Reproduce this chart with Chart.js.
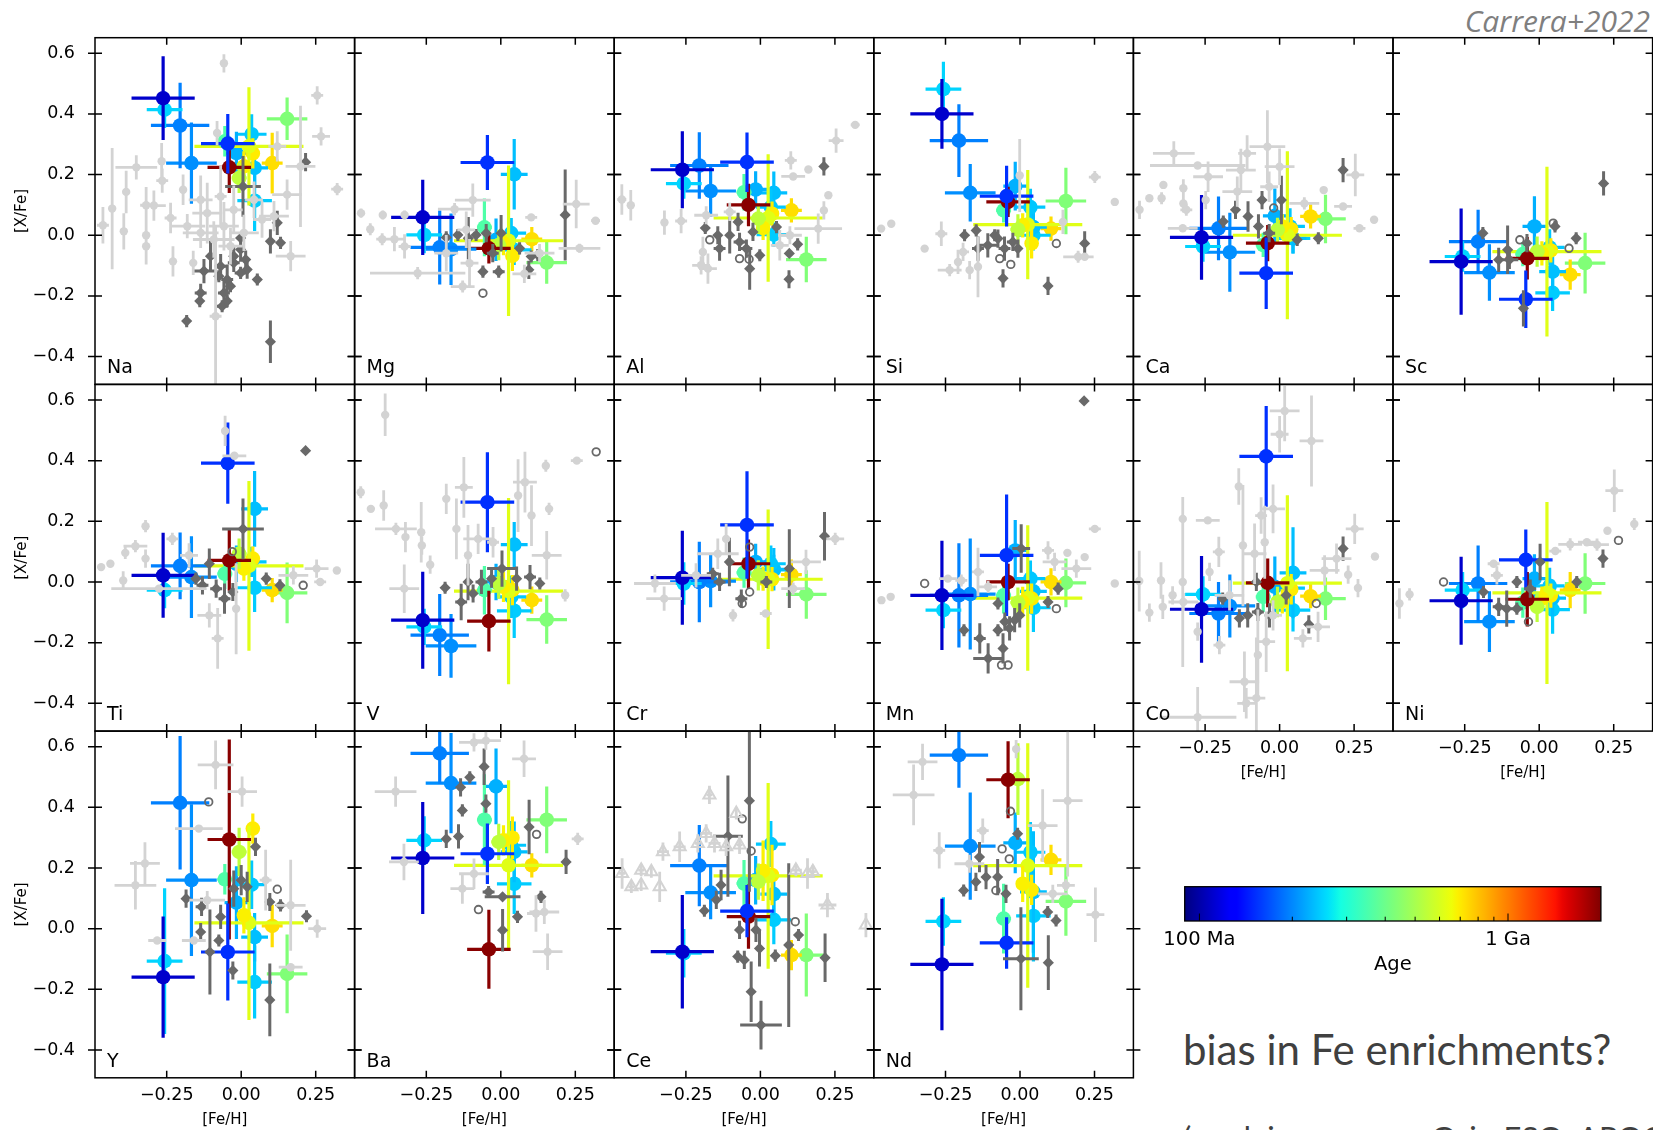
<!DOCTYPE html>
<html>
<head>
<meta charset="utf-8">
<script src="https://cdn.jsdelivr.net/npm/chart.js@4.4.1/dist/chart.umd.min.js"></script>
<style>
  body { margin: 0; background: #fff; }
  #page { position: relative; width: 1653px; height: 1130px; overflow: hidden; background: #fff; }
  #page canvas { position: absolute; }
  .note { position: absolute; white-space: nowrap; line-height: 1; }
  #credit { right: 3px; top: 0px; font: italic 30px "Open Sans", sans-serif; color: #7f7f7f; }
  #question { left: 1183px; top: 1024px; font: 42px Lato, sans-serif; color: #404040; }
  #wip { left: 1183px; top: 1118px; font: 31px Lato, sans-serif; color: #404040; }
</style>
</head>
<body>
<div id="page">
  <div class="note" id="credit">Carrera+2022</div>
  <div class="note" id="question">bias in Fe enrichments?</div>
  <div class="note" id="wip">(work in progress: Gaia-ESO; APOGEE)</div>
</div>
<script>
// ---- axes ----
const X_MIN = -0.4906, X_MAX = 0.3805;
const Y_MIN = -0.4917, Y_MAX = 0.6514;
const xTickValues = [-0.25, 0, 0.25];
const yTickValues = [-0.4, -0.2, 0, 0.2, 0.4, 0.6];

// ---- open clusters: [Fe/H], its error, age (Ma) ----
const clusterFeH    = [-0.262, -0.257, -0.205, -0.167, -0.045, -0.040, -0.055, -0.007, 0.009, 0.026, 0.039, -0.016, 0.035, 0.045, 0.045, 0.104, 0.154];
const clusterFeHErr = [0.106, 0.06, 0.098, 0.085, 0.09, 0.073, 0.025, 0.025, 0.02, 0.183, 0.02, 0.04, 0.05, 0.045, 0.058, 0.035, 0.068];
const clusterAgeMa  = [110, 252, 195, 204, 153, 1950, 358, 542, 685, 620, 696, 226, 242, 236, 246, 730, 430];

// ---- [X/Fe] of the clusters, and errors ----
const naXFe = [0.452, 0.414, 0.362, 0.238, 0.302, 0.224, 0.31, 0.189, 0.227, 0.293, 0.27, 0.271, 0.333, 0.222, 0.114, 0.238, 0.384];
const naErr = [0.138, 0.06, 0.141, 0.134, 0.098, 0.085, 0.05, 0.05, 0.05, 0.195, 0.05, 0.07, 0.066, 0.06, 0.1, 0.1, 0.07];
const mgXFe = [0.059, 0.001, -0.04, -0.046, 0.24, -0.043, 0.026, -0.032, -0.026, -0.018, -0.068, -0.015, 0.007, 0.201, -0.048, -0.013, -0.09];
const mgErr = [0.124, 0.06, 0.122, 0.118, 0.091, 0.05, 0.095, 0.05, 0.04, 0.248, 0.05, 0.07, 0.05, 0.116, 0.05, 0.04, 0.07];
const alXFe = [0.216, 0.17, 0.23, 0.146, 0.241, 0.10, 0.142, 0.055, 0.024, 0.057, 0.071, 0.151, 0.093, 0.14, 0.002, 0.082, -0.08];
const alErr = [0.127, 0.05, 0.11, 0.085, 0.098, 0.07, 0.06, 0.05, 0.04, 0.21, 0.04, 0.06, 0.06, 0.07, 0.04, 0.04, 0.075];
const siXFe = [0.40, 0.482, 0.312, 0.140, 0.129, 0.11, 0.082, 0.019, 0.033, 0.035, -0.027, 0.162, 0.093, 0.027, 0.0, 0.022, 0.113];
const siErr = [0.115, 0.09, 0.12, 0.095, 0.1, 0.05, 0.04, 0.05, 0.04, 0.18, 0.05, 0.08, 0.06, 0.05, 0.05, 0.04, 0.11];
const caXFe = [-0.007, -0.037, 0.023, -0.056, -0.125, -0.026, -0.032, 0.018, 0.029, 0.0, 0.02, 0.064, 0.029, -0.01, -0.01, 0.062, 0.054];
const caErr = [0.14, 0.05, 0.105, 0.13, 0.118, 0.06, 0.04, 0.04, 0.04, 0.277, 0.04, 0.09, 0.06, 0.05, 0.05, 0.04, 0.08];
const scXFe = [-0.087, -0.07, -0.021, -0.123, -0.211, -0.076, -0.062, -0.054, -0.06, -0.054, -0.05, 0.029, -0.04, -0.12, -0.19, -0.13, -0.092];
const scErr = [0.175, 0.05, 0.105, 0.093, 0.095, 0.07, 0.04, 0.05, 0.04, 0.28, 0.04, 0.1, 0.06, 0.06, 0.06, 0.05, 0.1];
const tiXFe = [0.022, -0.027, 0.053, 0.016, 0.392, 0.071, 0.027, 0.093, 0.044, 0.053, 0.077, 0.06, 0.066, 0.241, -0.019, -0.027, -0.036];
const tiErr = [0.14, 0.06, 0.11, 0.135, 0.134, 0.1, 0.05, 0.05, 0.04, 0.28, 0.04, 0.06, 0.05, 0.125, 0.08, 0.04, 0.1];
const vXFe  = [-0.126, -0.148, -0.175, -0.211, 0.263, -0.129, -0.027, -0.005, -0.016, -0.03, -0.027, 0.0, -0.049, 0.123, -0.095, -0.06, -0.124];
const vErr  = [0.16, 0.06, 0.135, 0.105, 0.165, 0.1, 0.08, 0.05, 0.05, 0.307, 0.05, 0.06, 0.07, 0.075, 0.09, 0.045, 0.08];
const crXFe = [0.014, -0.005, 0.0, 0.003, 0.188, 0.06, 0.031, 0.022, 0.011, 0.009, 0.009, 0.066, 0.06, 0.042, 0.04, 0.024, -0.041];
const crErr = [0.155, 0.07, 0.133, 0.086, 0.177, 0.08, 0.05, 0.05, 0.04, 0.23, 0.04, 0.06, 0.06, 0.07, 0.05, 0.05, 0.08];
const mnXFe = [-0.044, -0.093, -0.044, -0.04, 0.088, 0.0, -0.044, -0.068, -0.066, -0.053, -0.055, 0.104, 0.011, -0.031, -0.085, 0.0, -0.003];
const mnErr = [0.18, 0.06, 0.172, 0.183, 0.2, 0.06, 0.06, 0.05, 0.05, 0.24, 0.05, 0.1, 0.06, 0.06, 0.08, 0.045, 0.08];
const coXFe = [-0.09, -0.041, -0.104, -0.079, 0.414, -0.003, -0.049, -0.066, -0.064, -0.004, -0.024, -0.016, -0.02, 0.03, -0.093, -0.047, -0.055];
const coErr = [0.176, 0.06, 0.104, 0.104, 0.166, 0.08, 0.05, 0.05, 0.04, 0.29, 0.05, 0.1, 0.06, 0.15, 0.07, 0.04, 0.07];
const niXFe = [-0.062, -0.027, -0.005, -0.131, 0.073, -0.057, -0.068, -0.082, -0.055, -0.036, -0.045, 0.011, -0.013, -0.053, -0.091, -0.027, -0.005];
const niErr = [0.145, 0.06, 0.125, 0.1, 0.1, 0.09, 0.05, 0.05, 0.04, 0.3, 0.04, 0.08, 0.06, 0.06, 0.08, 0.06, 0.1];
const yXFe  = [-0.16, -0.107, 0.415, 0.16, -0.077, 0.294, 0.163, 0.253, 0.044, 0.019, 0.33, 0.086, 0.145, -0.028, -0.176, 0.009, -0.149];
const yErr  = [0.2, 0.24, 0.22, 0.25, 0.16, 0.33, 0.05, 0.08, 0.06, 0.32, 0.05, 0.12, 0.08, 0.08, 0.12, 0.07, 0.13];
const baXFe = [0.233, 0.291, 0.578, 0.48, 0.247, -0.068, 0.359, 0.286, 0.291, 0.209, 0.30, 0.469, 0.275, 0.253, 0.148, 0.209, 0.359];
const baErr = [0.185, 0.08, 0.1, 0.165, 0.1, 0.13, 0.15, 0.06, 0.05, 0.28, 0.07, 0.125, 0.08, 0.1, 0.1, 0.04, 0.11];
const ceXFe = [-0.076, -0.081, 0.208, 0.119, 0.058, 0.04, 0.149, 0.155, 0.191, 0.174, 0.177, 0.16, 0.279, 0.114, 0.029, -0.087, -0.087];
const ceErr = [0.187, 0.08, 0.134, 0.088, 0.086, 0.106, 0.077, 0.06, 0.1, 0.306, 0.1, 0.08, 0.076, 0.07, 0.08, 0.05, 0.137];
const ndXFe = [-0.118, 0.024, 0.572, 0.272, -0.047, 0.491, 0.033, 0.493, 0.148, 0.208, 0.128, 0.283, 0.252, 0.121, 0.042, 0.227, 0.09];
const ndErr = [0.217, 0.08, 0.107, 0.177, 0.085, 0.127, 0.115, 0.118, 0.06, 0.403, 0.05, 0.1, 0.1, 0.2, 0.15, 0.05, 0.113];

// ---- comparison samples: [FeH, XFe, errFeH, errXFe] ----
const naLight = [[-0.058,0.567,0,0.03],[0.255,0.461,0.02,0.03],[0.268,0.326,0.03,0.03],[0.322,0.152,0.02,0.02],[-0.352,0.224,0.07,0.04],[-0.433,0.088,0,0.2],[-0.464,0.033,0.02,0.06],[-0.386,0.143,0,0.07],[-0.394,0.013,0,0.06],[-0.319,0.099,0.02,0.06],[-0.319,0,0,0.04],[-0.319,-0.036,0,0.06],[-0.293,0.098,0.04,0.05],[-0.267,0.244,0,0.06],[-0.265,0.18,0.02,0.04],[-0.229,-0.086,0,0.05],[-0.195,0.15,0,0.05],[-0.237,0.057,0.02,0.05],[-0.161,-0.091,0.01,0.04],[-0.181,0.03,0.06,0.04],[-0.136,0.008,0.06,0.05],[-0.114,0.073,0.05,0.1],[-0.086,-0.267,0.02,0.3],[-0.092,-0.014,0.07,0.06],[-0.069,0.128,0.02,0.1],[-0.058,0.03,0.05,0.08],[-0.025,0.084,0.03,0.08],[-0.036,-0.036,0.04,0.06],[0.009,0.008,0.05,0.06],[0.043,0.117,0.03,0.06],[0.07,0.052,0.03,0.06],[0.11,0.063,0.05,0.05],[0.154,0.134,0.05,0.05],[0.166,-0.069,0.05,0.05],[0.199,0.227,0.05,0.2],[0.121,0.293,0.03,0.05],[-0.136,0.117,0.04,0.08],[-0.081,0.337,0,0.04]];
const naDark = [[0.216,0.241,0.01,0.03],[-0.183,-0.283,0.01,0.02],[0.098,-0.351,0.01,0.07],[0.054,-0.146,0.01,0.02],[0.121,0.041,0.01,0.04],[0.098,-0.02,0.01,0.04],[0.132,-0.025,0.01,0.02],[0.006,0.161,0.06,0.1],[-0.002,-0.009,0.01,0.02],[-0.002,-0.047,0.01,0.04],[0.015,-0.08,0.01,0.03],[0.02,-0.113,0.01,0.03],[-0.025,-0.091,0.02,0.03],[-0.069,-0.102,0.02,0.04],[-0.125,-0.118,0.04,0.04],[-0.103,-0.069,0.01,0.05],[-0.047,-0.146,0.02,0.05],[-0.058,-0.19,0.02,0.04],[-0.136,-0.19,0.02,0.03],[-0.139,-0.217,0.01,0.02],[-0.064,-0.234,0.02,0.02],[-0.047,-0.217,0.01,0.02],[-0.025,-0.069,0.01,0.03],[-0.036,-0.168,0.01,0.02],[-0.075,-0.135,0.01,0.02],[-0.002,-0.124,0.02,0.02]];
const naOpen = [];
const mgLight = [[-0.469,0.073,0.01,0.015],[-0.438,0.02,0.01,0.02],[-0.396,0.067,0.01,0.015],[-0.323,0.067,0.01,0.015],[-0.398,-0.013,0.02,0.02],[-0.357,-0.013,0.03,0.04],[-0.323,-0.037,0.02,0.04],[-0.279,-0.125,0.16,0.02],[-0.155,0.086,0.056,0.02],[-0.094,0.116,0.06,0.055],[-0.128,-0.169,0.04,0.02],[0.102,0.059,0.02,0.01],[0.253,0.103,0.045,0.08],[0.264,-0.043,0.07,0.015],[0.318,0.048,0.015,0.01],[0.079,-0.127,0.04,0.03],[-0.116,0.018,0.03,0.06],[-0.105,-0.092,0.03,0.08],[-0.183,-0.059,0.04,0.06],[0.13,-0.059,0.05,0.03]];
const mgDark = [[0.216,0.067,0.005,0.15],[-0.06,-0.12,0.01,0.02],[-0.007,-0.12,0.02,0.02],[0.094,-0.114,0.01,0.03],[0.102,-0.07,0.01,0.02],[0.124,-0.065,0.01,0.02],[-0.109,-0.01,0.005,0.07],[-0.183,-0.007,0.01,0.02],[-0.144,0.001,0.01,0.02],[-0.083,0.001,0.01,0.02],[-0.049,0.007,0.01,0.03],[0.001,0.007,0.005,0.06],[-0.027,-0.059,0.02,0.03],[0.063,-0.043,0.01,0.02]];
const mgOpen = [[-0.06,-0.191]];
const alLight = [[0.318,0.364,0.015,0.01],[0.254,0.312,0.025,0.04],[0.161,0.217,0.01,0.01],[0.11,0.194,0.04,0.01],[0.102,0.247,0.02,0.03],[0.228,0.132,0.01,0.01],[0.213,0.082,0.01,0.03],[0.194,0.022,0.08,0.05],[-0.465,0.118,0.015,0.05],[-0.435,0.099,0,0.05],[-0.322,0.042,0,0.04],[-0.266,0.047,0.02,0.04],[-0.193,-0.055,0,0.05],[-0.199,-0.099,0.03,0.03],[-0.176,-0.11,0.03,0.05],[-0.182,0.066,0.04,0.03],[-0.103,0.077,0.02,0.03],[0.099,0,0.04,0.03],[0.065,-0.033,0.03,0.05]];
const alDark = [[0.213,0.227,0.01,0.03],[0.096,-0.145,0.01,0.03],[0.125,-0.03,0.01,0.02],[0.097,-0.06,0.01,0.01],[-0.185,0.024,0.01,0.02],[-0.143,0,0.01,0.03],[-0.137,-0.044,0.02,0.04],[-0.103,0,0.01,0.06],[-0.07,-0.022,0.02,0.03],[-0.047,-0.044,0.02,0.03],[-0.036,-0.11,0,0.07],[-0.002,-0.066,0.01,0.02],[-0.075,0.044,0.01,0.03],[-0.025,0.011,0.01,0.03],[0.054,0.027,0.01,0.02]];
const alOpen = [[-0.07,-0.077],[-0.038,-0.079],[-0.17,-0.015]];
const siLight = [[0.251,0.192,0.02,0.02],[0.318,0.11,0.01,0.01],[-0.466,0.022,0.005,0.01],[-0.432,0.038,0.005,0.01],[-0.32,-0.044,0.005,0.01],[-0.264,0.005,0.02,0.04],[-0.236,-0.115,0.04,0.02],[-0.208,-0.088,0.01,0.04],[-0.169,-0.115,0.01,0.03],[-0.141,-0.104,0,0.1],[-0.191,-0.055,0.02,0.03],[-0.001,0.197,0,0.12],[0.195,-0.071,0.05,0.02],[0.217,-0.071,0.03,0.01],[0.144,0.044,0.01,0.04]];
const siDark = [[0.217,-0.027,0.01,0.04],[0.094,-0.167,0.01,0.03],[-0.186,0,0.01,0.02],[-0.147,0.016,0.01,0.02],[-0.141,-0.044,0.02,0.04],[-0.108,-0.033,0.03,0.04],[-0.074,-0.011,0.01,0.03],[-0.052,-0.044,0.02,0.04],[-0.024,-0.022,0.02,0.03],[-0.057,-0.142,0.01,0.03],[-0.007,-0.044,0.01,0.03],[-0.085,0,0.01,0.02]];
const siOpen = [[-0.068,-0.077],[-0.031,-0.096],[0.122,-0.027]];
const caLight = [[-0.355,0.27,0.07,0.04],[-0.275,0.23,0.16,0.01],[-0.24,0.193,0.05,0.05],[-0.109,0.27,0.03,0.06],[-0.041,0.292,0.06,0.12],[-0.13,0.215,0.05,0.07],[0,0.226,0.05,0.06],[-0.035,0.16,0.03,0.05],[-0.142,0.144,0.05,0.05],[0.254,0.199,0.03,0.07],[0.148,0.149,0.01,0.01],[0.268,0.023,0.02,0.01],[0.317,0.051,0.01,0.01],[-0.47,0.084,0.01,0.03],[-0.437,0.122,0.01,0.01],[-0.396,0.122,0,0.02],[-0.39,0.166,0,0.01],[-0.323,0.155,0,0.03],[-0.323,0.105,0,0.03],[-0.313,0.084,0.02,0.02],[-0.325,0.023,0.05,0.01],[-0.248,0.116,0,0.03],[0.083,0.105,0.05,0.02],[0.213,0.095,0.03,0.01]];
const caDark = [[0.213,0.215,0.005,0.04],[-0.059,0.116,0.01,0.03],[-0.148,0.084,0.01,0.03],[-0.189,0.045,0.01,0.02],[-0.106,0.062,0.01,0.05],[-0.071,0.029,0.01,0.04],[0.006,0.116,0.005,0.08],[0.13,-0.01,0.01,0.02],[0.059,-0.015,0.01,0.02],[-0.035,0.007,0.02,0.03]];
const caOpen = [[-0.02,0.09]];
const scLight = [];
const scDark = [[0.216,0.171,0.005,0.04],[-0.189,0.007,0.01,0.02],[-0.053,-0.241,0.01,0.06],[-0.136,-0.081,0.01,0.04],[-0.1,-0.081,0.03,0.03],[0.053,0.029,0.01,0.02],[0.124,-0.01,0.01,0.02],[-0.106,-0.048,0.01,0.08],[-0.041,-0.026,0.01,0.03]];
const scOpen = [[0.1,-0.043],[-0.065,-0.015],[0.047,0.04]];
const tiLight = [[-0.054,0.498,0,0.05],[-0.023,0.416,0.04,0],[-0.47,0.049,0.01,0.01],[-0.439,0.06,0.01,0.01],[-0.389,0.096,0,0.02],[-0.355,0.118,0.04,0.02],[-0.321,0.184,0,0.02],[-0.321,0.077,0,0.03],[-0.231,0.142,0.02,0.02],[-0.396,0.005,0,0.03],[-0.276,-0.022,0.16,0],[-0.079,-0.186,0.02,0.1],[-0.017,-0.088,0,0.15],[-0.107,-0.11,0.04,0.04],[0.253,0.044,0.04,0.03],[0.265,0,0.02,0.01],[0.321,0.038,0.01,0.01],[-0.175,0.088,0.03,0.04],[0.175,0.022,0.05,0.03]];
const tiDark = [[0.216,0.433,0.01,0.01],[0.006,0.175,0.07,0.1],[-0.107,0.06,0.005,0.05],[-0.13,-0.011,0.02,0.03],[-0.084,-0.022,0.02,0.03],[-0.056,-0.055,0.02,0.05],[-0.028,-0.033,0.01,0.03],[0.084,0.011,0.01,0.02],[0.13,-0.011,0.01,0.02],[-0.152,0.011,0.01,0.02]];
const tiOpen = [[0.208,-0.011],[-0.03,0.1]];
const vLight = [[-0.388,0.551,0,0.07],[-0.47,0.296,0.01,0.02],[-0.436,0.241,0.01,0.01],[-0.393,0.252,0,0.05],[-0.352,0.175,0.07,0.02],[-0.32,0.148,0,0.05],[-0.267,0.164,0,0.1],[-0.265,0.12,0,0.03],[-0.237,0.057,0,0.03],[-0.324,-0.022,0.05,0.08],[-0.183,0.274,0,0.05],[-0.124,0.312,0.03,0.1],[-0.149,0.175,0,0.1],[-0.11,0.088,0.01,0.1],[-0.076,0.142,0.05,0.05],[0.081,0.329,0.04,0.1],[0.151,0.383,0,0.02],[0.162,0.241,0,0.02],[0.255,0.4,0.02,0.01],[0.216,-0.044,0,0.02],[0.103,0.219,0,0.1],[0.154,0.088,0.05,0.08],[0.058,0.285,0,0.12],[-0.026,0.131,0.02,0.05]];
const vDark = [[-0.187,-0.019,0.01,0.02],[-0.133,-0.066,0.02,0.06],[-0.093,-0.038,0.01,0.03],[-0.065,0,0.02,0.04],[0.004,0.044,0.05,0.06],[0.053,0.011,0.01,0.04],[0.098,0.016,0.02,0.04],[0.131,-0.005,0.01,0.02],[-0.031,0.011,0.01,0.03],[-0.11,0,0.01,0.06]];
const vOpen = [[0.32,0.429]];
const crLight = [[-0.354,-0.005,0.07,0.03],[-0.323,-0.055,0.06,0.04],[-0.143,0.093,0.07,0.05],[-0.115,0.142,0,0.05],[-0.092,-0.11,0,0.02],[0.018,-0.104,0.02,0],[0.153,0.066,0.05,0.04],[0.251,0.142,0.03,0.02],[0.11,-0.022,0.04,0.02],[-0.216,0.022,0.05,0.04]];
const crDark = [[0.215,0.151,0.005,0.08],[0.097,0.044,0.005,0.13],[-0.104,0.066,0.005,0.08],[-0.137,0,0.02,0.03],[-0.064,-0.055,0.02,0.03],[-0.16,0.027,0.02,0.02],[0.02,0,0.02,0.02]];
const crOpen = [[-0.036,-0.033],[-0.061,-0.071],[-0.036,0.115]];
const mnLight = [[0.251,0.175,0.02,0.01],[0.318,-0.005,0.01,0.01],[-0.465,-0.06,0.005,0.01],[-0.434,-0.049,0.005,0.01],[-0.242,0.011,0.03,0.01],[-0.197,0.005,0.02,0.02],[-0.141,0.033,0.02,0.08],[-0.107,-0.016,0.03,0.02],[0.094,0.104,0.02,0.03],[0.159,0.096,0.01,0.01],[0.189,0.044,0.05,0.03],[0.217,0.082,0.01,0.01],[0.116,0.066,0.04,0.03]];
const mnDark = [[0.215,0.597,0.01,0.01],[-0.188,-0.159,0.01,0.02],[-0.135,-0.186,0.02,0.05],[-0.107,-0.252,0.05,0.05],[-0.057,-0.219,0.01,0.05],[-0.074,-0.159,0.01,0.02],[-0.035,-0.153,0.02,0.04],[-0.018,-0.126,0.02,0.04],[-0.001,-0.11,0.01,0.04],[-0.074,-0.071,0.01,0.02],[0.094,-0.066,0.01,0.02],[0.004,0.11,0.03,0.08],[-0.051,-0.131,0.01,0.03],[0.128,-0.022,0.01,0.02]];
const mnOpen = [[-0.04,-0.274],[-0.062,-0.274],[0.122,-0.088],[-0.32,-0.005]];
const coLight = [[-0.471,0.003,0,0.1],[-0.437,-0.101,0,0.03],[-0.398,0.005,0,0.06],[-0.392,-0.082,0,0.04],[-0.359,-0.044,0,0.03],[-0.325,0.208,0,0.07],[-0.325,0,0,0.28],[-0.323,-0.066,0.05,0.03],[-0.275,-0.446,0.13,0.1],[-0.241,0.203,0.04,0],[-0.235,0.033,0,0.03],[-0.275,-0.164,0,0.03],[-0.204,0.099,0.02,0.05],[-0.202,-0.208,0.02,0.03],[-0.137,0.315,0,0.06],[-0.123,0.12,0,0.2],[-0.118,-0.329,0.05,0.1],[-0.112,-0.4,0.03,0.05],[-0.078,-0.383,0.03,0.2],[-0.073,-0.241,0,0.15],[-0.084,0.093,0.04,0.1],[-0.062,0.219,0.02,0.06],[-0.05,0.131,0,0.12],[-0.022,0.241,0.04,0.08],[0,0.487,0.03,0.06],[0.017,0.564,0.05,0.1],[0.107,0.465,0.04,0.15],[-0.045,-0.197,0.03,0.1],[-0.022,-0.11,0.03,0.05],[0.078,-0.186,0.03,0.03],[0.129,-0.148,0.04,0.05],[0.151,0.038,0.05,0.05],[0.191,0.077,0.05,0.05],[0.23,0.024,0,0.03],[0.252,0.175,0.03,0.05],[0.263,-0.02,0,0.03],[0.32,0.084,0.01,0.01],[-0.168,-0.044,0.05,0.05]];
const coDark = [[0.213,0.11,0.01,0.04],[0.098,-0.14,0.01,0.03],[-0.135,-0.12,0.01,0.03],[-0.107,-0.11,0.01,0.04],[-0.073,-0.099,0.02,0.03],[-0.191,-0.055,0.01,0.02],[-0.034,-0.11,0.01,0.04],[0.022,-0.044,0.01,0.03],[-0.078,0,0.01,0.03]];
const coOpen = [[0.123,-0.071]];
const niLight = [[0.252,0.301,0.03,0.07],[0.319,0.191,0.01,0.02],[0.229,0.169,0.01,0.01],[0.194,0.123,0.04,0.02],[0.16,0.131,0.03,0.01],[0.104,0.124,0.04,0.02],[0.054,0.102,0.02,0.01],[-0.153,0.06,0.02,0.01],[-0.142,0.022,0.02,0.03],[-0.469,-0.071,0,0.05],[-0.435,-0.041,0,0.02]];
const niDark = [[0.214,0.077,0.01,0.03],[-0.187,-0.033,0.01,0.02],[-0.136,-0.082,0.02,0.03],[-0.109,-0.088,0.01,0.06],[-0.075,0,0.01,0.02],[-0.075,-0.088,0.02,0.02],[0.003,0.066,0.005,0.06],[-0.03,-0.022,0.02,0.03],[0.126,0,0.01,0.02]];
const niOpen = [[-0.036,-0.131],[-0.321,0],[0.266,0.137]];
const yLight = [[-0.086,0.54,0.06,0.08],[0.003,0.452,0.05,0.05],[-0.323,0.215,0.05,0.07],[-0.355,0.143,0.07,0.08],[-0.142,0.33,0.08,0],[0.082,0.16,0.02,0.1],[0.166,0.077,0.05,0.15],[0.255,0,0.03,0.03],[-0.282,-0.039,0.03,0],[-0.159,-0.039,0.04,0],[0.166,-0.127,0.04,0],[-0.114,0.094,0.06,0.03]];
const yDark = [[-0.185,0.099,0.01,0.03],[-0.133,0.072,0.02,0.03],[-0.136,-0.011,0.01,0.03],[-0.105,-0.077,0,0.14],[-0.075,-0.039,0.01,0.02],[-0.028,-0.138,0.01,0.03],[-0.025,0.132,0.01,0.06],[0,0.16,0.01,0.05],[0.048,0.27,0.01,0.03],[0.096,0.088,0.01,0.03],[0.132,0.077,0.01,0.02],[0.219,0.041,0.01,0.02],[0.096,-0.235,0.01,0.12],[-0.069,0.039,0.01,0.04],[0.02,0.138,0.01,0.05]];
const yOpen = [[0.121,0.13],[-0.109,0.418]];
const baLight = [[-0.353,0.452,0.07,0.05],[-0.325,0.22,0.05,0.06],[-0.09,0.614,0.05,0.03],[-0.05,0.62,0.05,0.03],[0.078,0.56,0.04,0.06],[0.258,0.296,0.02,0.02],[0.146,0.055,0.05,0.04],[0.157,-0.076,0.05,0.06],[-0.129,0.132,0.04,0.05],[-0.09,0.181,0.05,0.05],[0.118,0.05,0.03,0.06]];
const baDark = [[-0.056,0.534,0.01,0.06],[-0.104,0.499,0.01,0.02],[-0.135,0.466,0.01,0.03],[-0.129,0.39,0.01,0.02],[-0.183,0.296,0.01,0.03],[-0.142,0.304,0.01,0.04],[-0.041,0.121,0.02,0.02],[0.006,0.105,0.06,0.01],[0.135,0.105,0.01,0.02],[0.219,0.22,0.01,0.04],[0.095,0.335,0.01,0.09],[0.056,0.039,0.01,0.02],[0.006,-0.005,0.01,0.07],[-0.05,0.412,0.01,0.03]];
const baOpen = [[-0.075,0.063],[0.12,0.311]];
const ceLight = [[-0.171,0.441,0.01,0.03],[-0.081,0.38,0,0.02],[-0.182,0.314,0.02,0.03],[-0.271,0.27,0.02,0.05],[-0.327,0.254,0.02,0.03],[-0.21,0.281,0.01,0.03],[-0.154,0.281,0.02,0.03],[-0.115,0.27,0.01,0.03],[-0.07,0.276,0.01,0.03],[-0.464,0.182,0.01,0.05],[-0.4,0.193,0.01,0.02],[-0.366,0.188,0,0.02],[-0.433,0.138,0.01,0.02],[-0.4,0.144,0,0.02],[-0.338,0.138,0,0.05],[0.119,0.193,0.02,0.02],[0.158,0.182,0,0.05],[0.176,0.188,0.01,0.02],[0.225,0.078,0.03,0.04],[0.354,0.012,0,0.04]];
const ceDark = [[-0.037,0.422,0.005,0.3],[-0.109,0.305,0.05,0.2],[-0.132,0.144,0.01,0.05],[-0.188,0.059,0.01,0.02],[-0.076,-0.092,0.01,0.02],[-0.054,-0.103,0.01,0.03],[-0.031,-0.208,0.01,0.1],[0.002,-0.318,0.07,0.08],[-0.003,-0.065,0.01,0.06],[0.05,-0.089,0.01,0.02],[0.095,-0.054,0.01,0.27],[0.128,-0.021,0.01,0.02],[0.217,-0.096,0.01,0.08],[-0.07,-0.004,0.01,0.03],[-0.015,-0.004,0.01,0.04],[-0.148,0.095,0.01,0.03]];
const ceOpen = [[-0.061,0.362],[-0.031,0.256],[0.117,0.023]];
const ndLight = [[-0.357,0.441,0.07,0.1],[-0.327,0.55,0.05,0.06],[-0.271,0.258,0.02,0.06],[-0.125,0.323,0.02,0.04],[0.076,0.34,0.05,0.12],[0.16,0.422,0.05,0.25],[0.253,0.046,0.03,0.09],[0.11,0.115,0.05,0.03],[0.154,0.143,0.03,0.02],[-0.013,0.592,0,0.03],[-0.17,0.214,0.05,0.03]];
const ndDark = [[-0.189,0.126,0.01,0.02],[-0.148,0.154,0.01,0.03],[-0.114,0.17,0.01,0.04],[-0.136,0.236,0.005,0.05],[-0.075,0.17,0.01,0.06],[-0.047,0.115,0.01,0.03],[-0.008,0.313,0.01,0.02],[0.003,-0.099,0.06,0.17],[0.095,-0.112,0.01,0.09],[0.093,0.055,0.01,0.02],[0.121,0.027,0.01,0.02]];
const ndOpen = [[-0.032,0.387],[-0.06,0.263],[-0.036,0.23],[-0.081,0.126]];

const panels = [
  { name: 'Na', xfe: naXFe, err: naErr, light: naLight, dark: naDark, open: naOpen },
  { name: 'Mg', xfe: mgXFe, err: mgErr, light: mgLight, dark: mgDark, open: mgOpen },
  { name: 'Al', xfe: alXFe, err: alErr, light: alLight, dark: alDark, open: alOpen },
  { name: 'Si', xfe: siXFe, err: siErr, light: siLight, dark: siDark, open: siOpen },
  { name: 'Ca', xfe: caXFe, err: caErr, light: caLight, dark: caDark, open: caOpen },
  { name: 'Sc', xfe: scXFe, err: scErr, light: scLight, dark: scDark, open: scOpen },
  { name: 'Ti', xfe: tiXFe, err: tiErr, light: tiLight, dark: tiDark, open: tiOpen },
  { name: 'V',  xfe: vXFe,  err: vErr,  light: vLight,  dark: vDark,  open: vOpen },
  { name: 'Cr', xfe: crXFe, err: crErr, light: crLight, dark: crDark, open: crOpen },
  { name: 'Mn', xfe: mnXFe, err: mnErr, light: mnLight, dark: mnDark, open: mnOpen },
  { name: 'Co', xfe: coXFe, err: coErr, light: coLight, dark: coDark, open: coOpen },
  { name: 'Ni', xfe: niXFe, err: niErr, light: niLight, dark: niDark, open: niOpen },
  { name: 'Y',  xfe: yXFe,  err: yErr,  light: yLight,  dark: yDark,  open: yOpen },
  { name: 'Ba', xfe: baXFe, err: baErr, light: baLight, dark: baDark, open: baOpen },
  { name: 'Ce', xfe: ceXFe, err: ceErr, light: ceLight, dark: ceDark, open: ceOpen, lightStyle: 'triangle' },
  { name: 'Nd', xfe: ndXFe, err: ndErr, light: ndLight, dark: ndDark, open: ndOpen }
];

// ---- colour bar ----
const AGE_MIN = 89.6, AGE_MAX = 2000;
const ageTicks = [100, 200, 300, 400, 500, 600, 700, 800, 900, 1000];
const ageLabels = { 100: '100 Ma', 1000: '1 Ga' };

// matplotlib "jet"
const JET = {
  r: [[0, 0], [0.35, 0], [0.66, 1], [0.89, 1], [1, 0.5]],
  g: [[0, 0], [0.125, 0], [0.375, 1], [0.64, 1], [0.91, 0], [1, 0]],
  b: [[0, 0.5], [0.11, 1], [0.34, 1], [0.65, 0], [1, 0]]
};
function seg(s, t) {
  for (let i = 1; i < s.length; i++) {
    if (t <= s[i][0]) {
      const [t0, v0] = s[i - 1], [t1, v1] = s[i];
      return v0 + (v1 - v0) * (t - t0) / (t1 - t0);
    }
  }
  return s[s.length - 1][1];
}
function jet(t) {
  t = Math.min(1, Math.max(0, t));
  const c = k => Math.round(255 * seg(JET[k], t));
  return `rgb(${c('r')},${c('g')},${c('b')})`;
}
const ageToT = a => Math.log(a / AGE_MIN) / Math.log(AGE_MAX / AGE_MIN);

const LIGHT = '#d3d3d3', DARK = '#696969';
const FONT = "'DejaVu Sans', sans-serif";
const minus = s => s.replace('-', '\u2212');

// geometry of the 6x3 grid
const GRID_X0 = 95, GRID_Y0 = 37.7, CELL_W = 259.6, CELL_H = 346.7;
const page = document.getElementById('page');

// error bars are drawn under the markers of their own dataset
const errorBars = {
  id: 'errorBars',
  beforeDatasetDraw(chart, args) {
    const ds = chart.data.datasets[args.index];
    if (!ds.barWidth) return;
    const { ctx, chartArea: a, scales: { x, y } } = chart;
    ctx.save();
    ctx.beginPath();
    ctx.rect(a.left, a.top, a.right - a.left, a.bottom - a.top);
    ctx.clip();
    ctx.lineWidth = ds.barWidth;
    ctx.strokeStyle = ds.barColor;
    ctx.lineCap = 'butt';
    ctx.beginPath();
    ds.data.forEach(p => {
      const px = x.getPixelForValue(p.x), py = y.getPixelForValue(p.y);
      if (p.xe) {
        ctx.moveTo(x.getPixelForValue(p.x - p.xe), py);
        ctx.lineTo(x.getPixelForValue(p.x + p.xe), py);
      }
      if (p.ye) {
        ctx.moveTo(px, y.getPixelForValue(p.y - p.ye));
        ctx.lineTo(px, y.getPixelForValue(p.y + p.ye));
      }
    });
    ctx.stroke();
    ctx.restore();
  }
};

// box, inward ticks and panel texts
const frame = {
  id: 'frame',
  afterDatasetsDraw(chart, args, opts) {
    const { ctx, chartArea: a, scales: { x, y } } = chart;
    ctx.save();
    ctx.strokeStyle = '#000';
    ctx.lineWidth = 1.5;
    ctx.strokeRect(a.left, a.top, a.right - a.left, a.bottom - a.top);
    ctx.beginPath();
    xTickValues.forEach(v => {
      const px = x.getPixelForValue(v);
      ctx.moveTo(px, a.top); ctx.lineTo(px, a.top + 7);
      ctx.moveTo(px, a.bottom); ctx.lineTo(px, a.bottom - 7);
    });
    yTickValues.forEach(v => {
      const py = y.getPixelForValue(v);
      ctx.moveTo(a.left - 7, py); ctx.lineTo(a.left + 7, py);
      ctx.moveTo(a.right - 7, py); ctx.lineTo(a.right + 7, py);
    });
    ctx.stroke();

    ctx.fillStyle = '#000';
    ctx.font = `19px ${FONT}`;
    ctx.textAlign = 'left';
    ctx.textBaseline = 'alphabetic';
    ctx.fillText(opts.label, a.left + 12, a.bottom - 11);

    ctx.font = `15px ${FONT}`;
    ctx.textAlign = 'center';
    ctx.textBaseline = 'middle';
    if (opts.xTitle) ctx.fillText('[Fe/H]', (a.left + a.right) / 2, a.bottom + 42);
    if (opts.yTitle) {
      ctx.translate(a.left - 72.5, (a.top + a.bottom) / 2);
      ctx.rotate(-Math.PI / 2);
      ctx.fillText('[X/Fe]', 0, 0);
    }
    ctx.restore();
  }
};

function toPts(rows) {
  return rows.map(([x, y, xe, ye]) => ({ x, y, xe: xe || 0, ye: ye || 0 }));
}

// keep the plot area exactly where the layout puts it
function noScalePadding(s) {
  s.paddingTop = 0; s.paddingBottom = 0; s.paddingLeft = 0; s.paddingRight = 0;
}

function buildPanel(p, i) {
  const col = i % 6, row = Math.floor(i / 6);
  const L = GRID_X0 + col * CELL_W, R = L + CELL_W;
  const T = GRID_Y0 + row * CELL_H, B = T + CELL_H;
  const cx = Math.floor(L - 95), cy = Math.floor(T - 10);
  const W = Math.ceil(R + 10) - cx, H = Math.ceil(B + 62) - cy;
  const showX = row === 2 || (row === 1 && col >= 4);
  const showY = col === 0;

  const canvas = document.createElement('canvas');
  canvas.width = W; canvas.height = H;
  canvas.style.left = cx + 'px'; canvas.style.top = cy + 'px';
  canvas.style.width = W + 'px'; canvas.style.height = H + 'px';
  page.appendChild(canvas);

  const datasets = [];
  if (p.light.length) {
    const tri = p.lightStyle === 'triangle';
    datasets.push({
      data: toPts(p.light), barWidth: 2.8, barColor: LIGHT,
      pointStyle: tri ? 'triangle' : 'circle', pointRadius: tri ? 7 : 4.2,
      backgroundColor: tri ? 'rgba(0,0,0,0)' : LIGHT, borderColor: LIGHT, borderWidth: tri ? 2 : 0
    });
  }
  datasets.push({
    data: toPts(p.dark), barWidth: 3, barColor: DARK,
    pointStyle: 'rectRot', pointRadius: 5.6, backgroundColor: DARK, borderWidth: 0
  });
  if (p.open.length) {
    datasets.push({
      data: toPts(p.open), pointStyle: 'circle', pointRadius: 3.8,
      backgroundColor: 'rgba(0,0,0,0)', borderColor: DARK, borderWidth: 1.8
    });
  }
  clusterFeH.forEach((feh, k) => {
    const c = jet(ageToT(clusterAgeMa[k]));
    datasets.push({
      data: [{ x: feh, y: p.xfe[k], xe: clusterFeHErr[k], ye: p.err[k] }],
      barWidth: 3.2, barColor: c,
      pointStyle: 'circle', pointRadius: 7.3, backgroundColor: c, borderWidth: 0
    });
  });
  datasets.forEach(d => { d.clip = 0; });

  new Chart(canvas, {
    type: 'scatter',
    data: { datasets },
    plugins: [errorBars, frame],
    options: {
      responsive: false, animation: false, events: [],
      layout: { padding: { left: L - 95 - cx, top: T - cy, right: W - (R - cx), bottom: 0 } },
      plugins: {
        legend: { display: false }, tooltip: { enabled: false },
        frame: { label: p.name, xTitle: showX, yTitle: showY }
      },
      scales: {
        x: {
          type: 'linear', min: X_MIN, max: X_MAX,
          grid: { display: false }, border: { display: false },
          afterBuildTicks: s => { s.ticks = xTickValues.map(v => ({ value: v })); },
          afterFit: s => { s.height = H - (B - cy); noScalePadding(s); },
          ticks: {
            display: showX, autoSkip: false, maxRotation: 0, padding: -1,
            color: '#000', font: { family: FONT, size: 17.5 },
            callback: v => minus(v.toFixed(2))
          }
        },
        y: {
          type: 'linear', min: Y_MIN, max: Y_MAX,
          grid: { display: false }, border: { display: false },
          afterBuildTicks: s => { s.ticks = yTickValues.map(v => ({ value: v })); },
          afterFit: s => { s.width = 95; noScalePadding(s); },
          ticks: {
            display: showY, autoSkip: false, padding: 12,
            color: '#000', font: { family: FONT, size: 17.5 },
            callback: v => minus(v.toFixed(1))
          }
        }
      }
    }
  });
}

panels.forEach(buildPanel);

// ---- age colour bar (log scale) ----
const colorBar = {
  id: 'colorBar',
  beforeDatasetsDraw(chart) {
    const { ctx, chartArea: a, scales: { x } } = chart;
    const g = ctx.createLinearGradient(a.left, 0, a.right, 0);
    for (let s = 0; s <= 64; s++) g.addColorStop(s / 64, jet(s / 64));
    ctx.save();
    ctx.fillStyle = g;
    ctx.fillRect(a.left, a.top, a.right - a.left, a.bottom - a.top);
    ctx.strokeStyle = '#000';
    ctx.lineWidth = 1;
    ctx.beginPath();
    ageTicks.forEach(v => {
      const px = x.getPixelForValue(v);
      const len = ageLabels[v] ? 7.5 : 4.3;
      ctx.moveTo(px, a.bottom); ctx.lineTo(px, a.bottom - len);
    });
    ctx.stroke();
    ctx.lineWidth = 1.3;
    ctx.strokeRect(a.left, a.top, a.right - a.left, a.bottom - a.top);
    ctx.fillStyle = '#000';
    ctx.font = `19.5px ${FONT}`;
    ctx.textAlign = 'center';
    ctx.textBaseline = 'middle';
    ctx.fillText('Age', (a.left + a.right) / 2, a.bottom + 44);
    ctx.restore();
  }
};
(function () {
  const cx = 1150, cy = 870, W = 490, H = 120;
  const canvas = document.createElement('canvas');
  canvas.width = W; canvas.height = H;
  canvas.style.left = cx + 'px'; canvas.style.top = cy + 'px';
  canvas.style.width = W + 'px'; canvas.style.height = H + 'px';
  page.appendChild(canvas);
  const left = 1184.7 - cx, right = 1600.9 - cx, top = 886.7 - cy, bottom = 921 - cy;
  new Chart(canvas, {
    type: 'scatter',
    data: { datasets: [{ data: [] }] },
    plugins: [colorBar],
    options: {
      responsive: false, animation: false, events: [],
      layout: { padding: { left, top, right: W - right, bottom: 0 } },
      plugins: { legend: { display: false }, tooltip: { enabled: false } },
      scales: {
        x: {
          type: 'logarithmic', min: AGE_MIN, max: AGE_MAX,
          grid: { display: false }, border: { display: false },
          afterBuildTicks: s => { s.ticks = ageTicks.map(v => ({ value: v })); },
          afterFit: s => { s.height = H - bottom; noScalePadding(s); },
          ticks: {
            autoSkip: false, maxRotation: 0, padding: -1, color: '#000',
            font: { family: FONT, size: 19.5 },
            callback: v => ageLabels[v] || ''
          }
        },
        y: { display: false, min: 0, max: 1 }
      }
    }
  });
})();
</script>
</body>
</html>
